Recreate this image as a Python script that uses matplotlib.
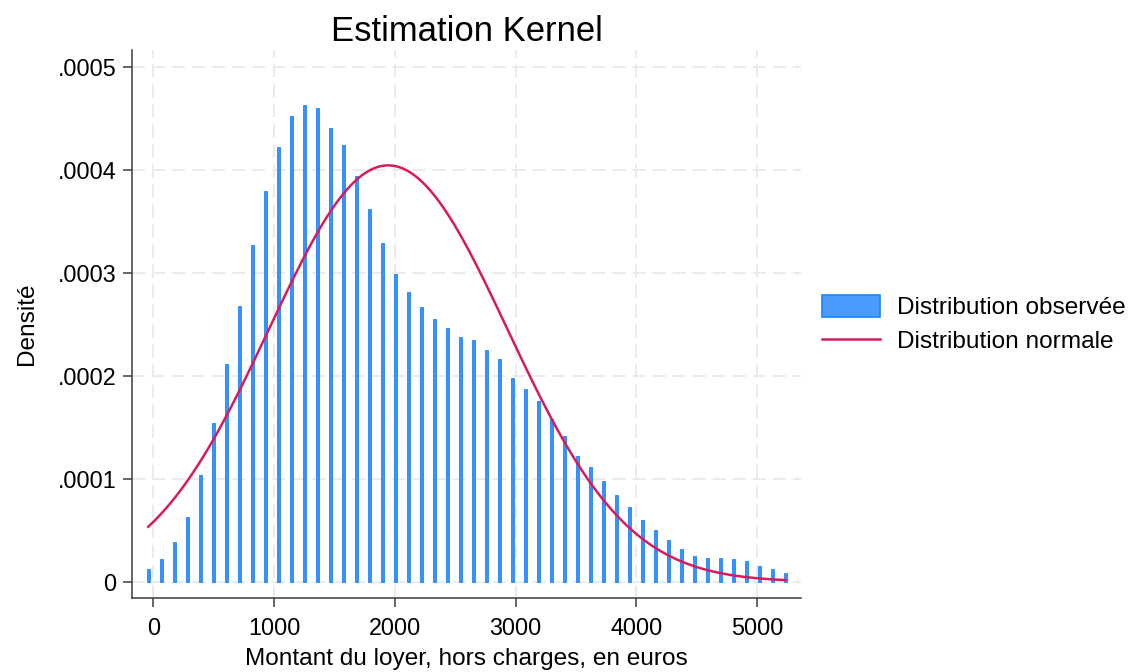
import numpy as np
import matplotlib
matplotlib.use("Agg")
import matplotlib.pyplot as plt
from matplotlib.patches import Patch
from matplotlib.lines import Line2D

plt.rcParams["font.family"] = ["Liberation Sans", "DejaVu Sans"]

# histogram bins
bin_first_center = -41
bin_width = 107.7
densities = [
    0.0000120, 0.0000223, 0.0000388, 0.0000625, 0.0001035, 0.0001542,
    0.0002112, 0.0002677, 0.0003272, 0.0003789, 0.0004223, 0.0004520,
    0.0004624, 0.0004595, 0.0004407, 0.0004239, 0.0003942, 0.0003615,
    0.0003285, 0.0002985, 0.0002813, 0.0002664, 0.0002551, 0.0002461,
    0.0002377, 0.0002344, 0.0002254, 0.0002163, 0.0001982, 0.0001869,
    0.0001753, 0.0001575, 0.0001416, 0.0001219, 0.0001113, 0.0000980,
    0.0000841, 0.0000722, 0.0000596, 0.0000501, 0.0000407, 0.0000314,
    0.0000246, 0.0000233, 0.0000226, 0.0000220, 0.0000198, 0.0000155,
    0.0000123, 0.0000081,
]

# normal distribution fitted on the same data
loyer_mean = 1945
loyer_sd = 987

x_ticks = [0, 1000, 2000, 3000, 4000, 5000]
x_tick_labels = ["0", "1000", "2000", "3000", "4000", "5000"]
y_ticks = [0, 0.0001, 0.0002, 0.0003, 0.0004, 0.0005]
y_tick_labels = ["0", ".0001", ".0002", ".0003", ".0004", ".0005"]

centers = bin_first_center + bin_width * np.arange(len(densities))
xs = np.linspace(centers[0], centers[-1], 400)
normal_pdf = np.exp(-0.5 * ((xs - loyer_mean) / loyer_sd) ** 2) / (loyer_sd * np.sqrt(2 * np.pi))

bar_color = "#1a85ff"
line_color = "#d81b5a"

fig = plt.figure(figsize=(11.31, 6.72), dpi=100)
ax = fig.add_axes([0.1167, 0.1097, 0.5915, 0.8159])

ax.bar(centers, densities, width=28, color="#3b92ff", edgecolor=bar_color, linewidth=0.6, zorder=2)
ax.plot(xs, normal_pdf, color=line_color, linewidth=1.8, zorder=3)

ax.set_xlim(-176, 5362)
ax.set_ylim(-0.0000161, 0.0005162)
ax.set_xticks(x_ticks)
ax.set_xticklabels(x_tick_labels)
ax.set_yticks(y_ticks)
ax.set_yticklabels(y_tick_labels)

ax.grid(True, color="#ebebeb", linewidth=1.4, linestyle=(0, (6.7, 3.6)), zorder=0)
ax.set_axisbelow(True)

for side in ["top", "right"]:
    ax.spines[side].set_visible(False)
for side in ["left", "bottom"]:
    ax.spines[side].set_color("#3c3c3c")
    ax.spines[side].set_linewidth(1.1)

ax.tick_params(axis="both", length=6.5, width=1.1, color="#3c3c3c", labelsize=16.8)
ax.tick_params(axis="y", pad=4.8)
ax.tick_params(axis="x", pad=7)

ax.set_xlabel("Montant du loyer, hors charges, en euros", fontsize=17.6, va="baseline")
ax.xaxis.set_label_coords(0.5, -0.1215)
ax.set_ylabel("Densité", fontsize=17.6, va="center")
ax.yaxis.set_label_coords(-0.157, 0.5)
ax.set_title("Estimation Kernel", fontsize=24.9, y=1.017, va="baseline", pad=0)

handles = [
    Patch(facecolor="#4b9bff", edgecolor=bar_color, linewidth=1.2),
    Line2D([0], [0], color=line_color, linewidth=1.8),
]
fig.legend(
    handles,
    ["Distribution observée", "Distribution normale"],
    loc="center left",
    bbox_to_anchor=(822 / 1131, 1 - 324 / 672),
    frameon=False,
    fontsize=17.6,
    handlelength=2.37,
    handleheight=1.0,
    handletextpad=0.68,
    borderpad=0,
    borderaxespad=0,
    labelspacing=0.4,
)

fig.savefig("out.png", dpi=100)
